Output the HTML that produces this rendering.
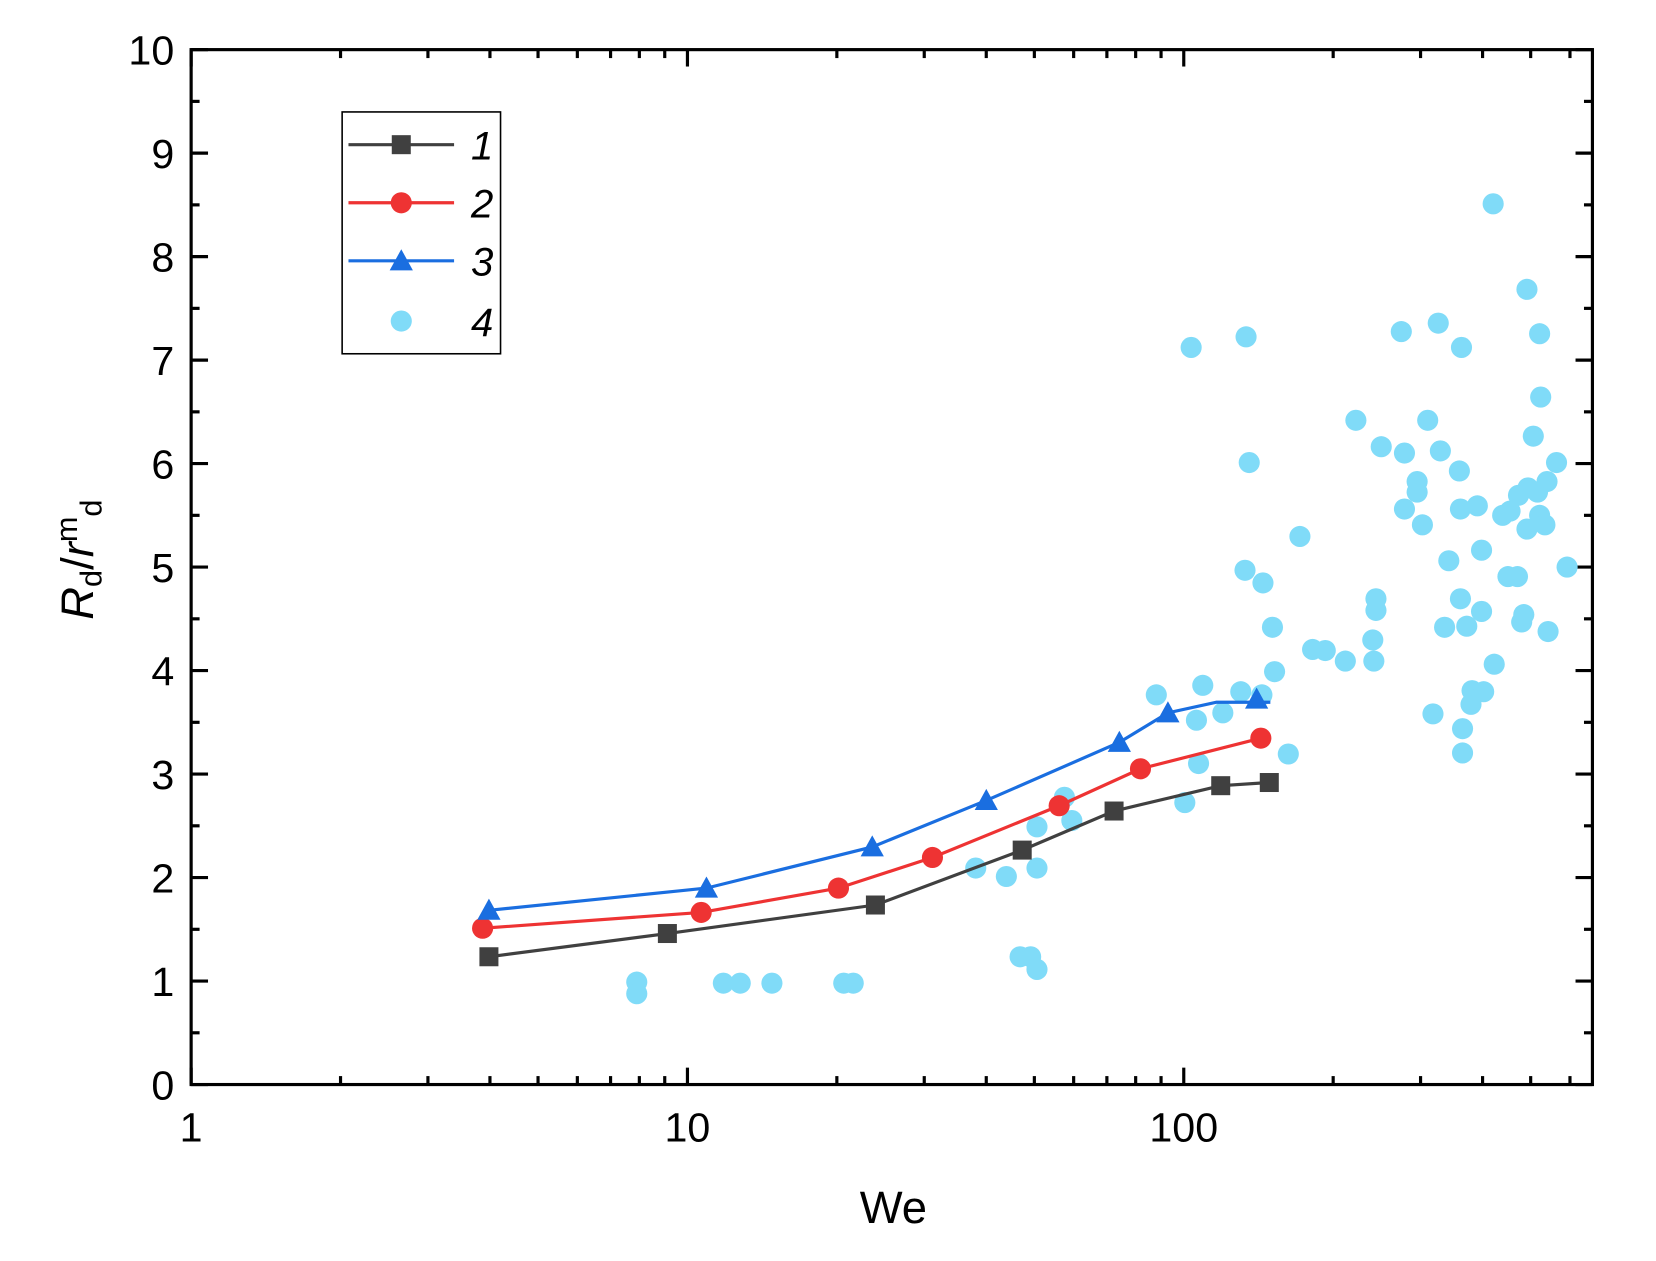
<!DOCTYPE html>
<html><head><meta charset="utf-8"><style>
html,body{margin:0;padding:0;background:#fff;}
svg{display:block;}
text{font-family:"Liberation Sans",Arial,sans-serif;fill:#000;}
</style></head><body>
<svg width="1656" height="1261" viewBox="0 0 1568.2 1194.1" preserveAspectRatio="none" xmlns="http://www.w3.org/2000/svg">
<rect width="1568.2" height="1194.1" fill="#fff"/>
<g id="ticks" stroke="#000" stroke-width="3"></g>
<g id="labels" font-size="39"></g>
<g id="data"></g>
<rect x="181" y="47" width="1327" height="980" fill="none" stroke="#000" stroke-width="3"/>
<rect x="324" y="106" width="150" height="229" fill="#fff" stroke="#000" stroke-width="1.5"/>
<line x1="330" y1="137" x2="430" y2="137" stroke="#404040" stroke-width="3"/>
<rect x="371" y="128" width="18" height="18" fill="#404040"/>
<line x1="330" y1="192" x2="430" y2="192" stroke="#ee3333" stroke-width="3"/>
<circle cx="380" cy="192" r="10" fill="#ee3333"/>
<line x1="330" y1="247" x2="430" y2="247" stroke="#1a6ee0" stroke-width="3"/>
<polygon points="380,236 391,256 369,256" fill="#1a6ee0"/>
<circle cx="380" cy="304" r="10" fill="#80dbf8"/>
<g font-size="38" font-style="italic">
<text x="446" y="151">1</text><text x="446" y="206">2</text><text x="446" y="261">3</text><text x="446" y="318">4</text>
</g>
<text x="846" y="1158" font-size="43" text-anchor="middle">We</text>
<text transform="translate(88,530) rotate(-90)" font-size="43" text-anchor="middle"><tspan font-style="italic">R</tspan><tspan font-size="29" dy="8">d</tspan><tspan dy="-8">/</tspan><tspan font-style="italic">r</tspan><tspan font-size="29" dy="-15">m</tspan><tspan font-size="29" dy="23">d</tspan></text>
<script>
var ns="http://www.w3.org/2000/svg";
function el(p,t,a,txt){var e=document.createElementNS(ns,t);for(var k in a)e.setAttribute(k,a[k]);if(txt!=null)e.textContent=txt;document.getElementById(p).appendChild(e);return e;}
var X0=181,D=470,Y0=1027,U=98,R=1508,T=47;
for(var i=0;i<=20;i++){var y=Y0-i*U/2,L=(i%2==0)?16:8;
el("ticks","line",{x1:X0,y1:y,x2:X0+L,y2:y});el("ticks","line",{x1:R,y1:y,x2:R-L,y2:y});
if(i%2==0)el("labels","text",{x:X0-16,y:y+14,"text-anchor":"end"},String(i/2));}
for(var d=0;d<3;d++)for(var m=1;m<10;m++){var x=X0+D*(d+Math.log10(m));if(x>R)continue;var L=m==1?16:8;
el("ticks","line",{x1:x,y1:Y0,x2:x,y2:Y0-L});el("ticks","line",{x1:x,y1:T,x2:x,y2:T+L});
if(m==1)el("labels","text",{x:x,y:Y0+54,"text-anchor":"middle"},String(Math.pow(10,d)));}
var cy=[[603,930],[603,941],[685,931],[701,931],[731,931],[799,931],[808,931],[924,822],[953,830],[966,906],[976,906],[982,918],[982,783],[982,822],[1008,755],[1015,777],[1095,658],[1122,760],[1128,329],[1133,682],[1135,723],[1139,649],[1158,675],[1175,655],[1179,540],[1180,319],[1183,438],[1195,658],[1196,552],[1205,594],[1207,636],[1220,714],[1231,508],[1243,615],[1255,616],[1274,626],[1284,398],[1300,606],[1301,626],[1303,578],[1303,567],[1308,423],[1327,314],[1330,429],[1330,482],[1342,456],[1342,466],[1347,497],[1352,398],[1357,676],[1362,306],[1364,427],[1368,594],[1372,531],[1382,446],[1383,482],[1383,567],[1384,329],[1385,690],[1385,713],[1389,593],[1394,654],[1393,667],[1399,479],[1403,521],[1403,579],[1405,655],[1414,193],[1415,629],[1423,488],[1428,546],[1430,484],[1437,546],[1438,469],[1441,589],[1443,582],[1446,274],[1446,501],[1447,462],[1452,413],[1456,466],[1458,316],[1459,376],[1458,488],[1463,497],[1465,456],[1466,598],[1474,438],[1484,537]];
cy.forEach(function(p){el("data","circle",{cx:p[0],cy:p[1],r:10,fill:"#80dbf8"});});
function pl(pts,c){el("data","polyline",{points:pts.map(function(p){return p.join(",")}).join(" "),fill:"none",stroke:c,"stroke-width":3});}
var s1=[[463,906],[632,884],[829,857],[968,805],[1055,768],[1156,744],[1202,741]];
var s2=[[457,879],[664,864],[794,841],[883,812],[1003,763],[1080,728],[1194,699]];
var s3=[[463,862],[669,841],[826,802],[934,758],[1060,703],[1106,675],[1152,665],[1203,665]];
pl(s1,"#404040");pl(s2,"#ee3333");pl(s3,"#1a6ee0");
s1.forEach(function(p){el("data","rect",{x:p[0]-9,y:p[1]-9,width:18,height:18,fill:"#404040"});});
s2.forEach(function(p){el("data","circle",{cx:p[0],cy:p[1],r:10,fill:"#ee3333"});});
[[463,862],[669,841],[826,802],[934,758],[1060,703],[1106,675],[1190,662]].forEach(function(p){el("data","polygon",{points:(p[0])+","+(p[1]-11)+" "+(p[0]+11)+","+(p[1]+9)+" "+(p[0]-11)+","+(p[1]+9),fill:"#1a6ee0"});});
</script>
</svg>
</body></html>
